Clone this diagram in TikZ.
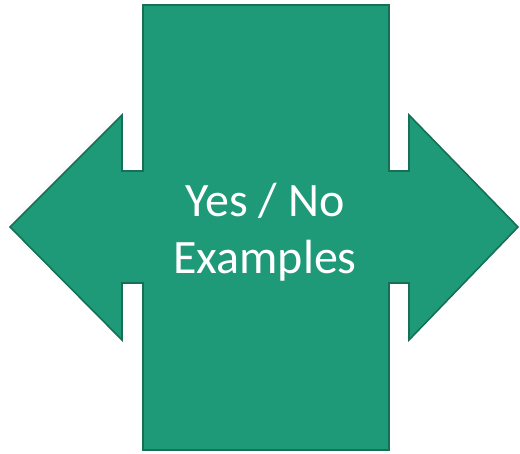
\documentclass[tikz,border=0pt]{standalone}
\usepackage{fontspec}
\setmainfont{Carlito}
\usepackage{tikz}
\usetikzlibrary{positioning}

\definecolor{shapefill}{RGB}{31,154,120}
\definecolor{shapeline}{RGB}{22,112,86}

\begin{document}
\begin{tikzpicture}[
    x=1pt, y=-1pt,
    crossarrow/.style={draw=shapeline, line width=1.6pt, fill=shapefill, line join=miter},
    bigtext/.style={text=white, align=center, font=\fontsize{48}{57}\selectfont}
]
    % Frame
    \useasboundingbox (0,0) rectangle (520,453);

    % Double arrow with central block
    \draw[crossarrow] (143,5) -- (389,5) -- (389,171) -- (409,171) -- (409,115)
        -- (518,227) -- (409,340) -- (409,283) -- (389,283) -- (389,450)
        -- (143,450) -- (143,283) -- (122,283) -- (122,340) -- (10,227)
        -- (122,115) -- (122,171) -- (143,171) -- cycle;

    % Label
    \node[bigtext] (label) at (265,232) {Yes / No\\Examples};
\end{tikzpicture}
\end{document}
